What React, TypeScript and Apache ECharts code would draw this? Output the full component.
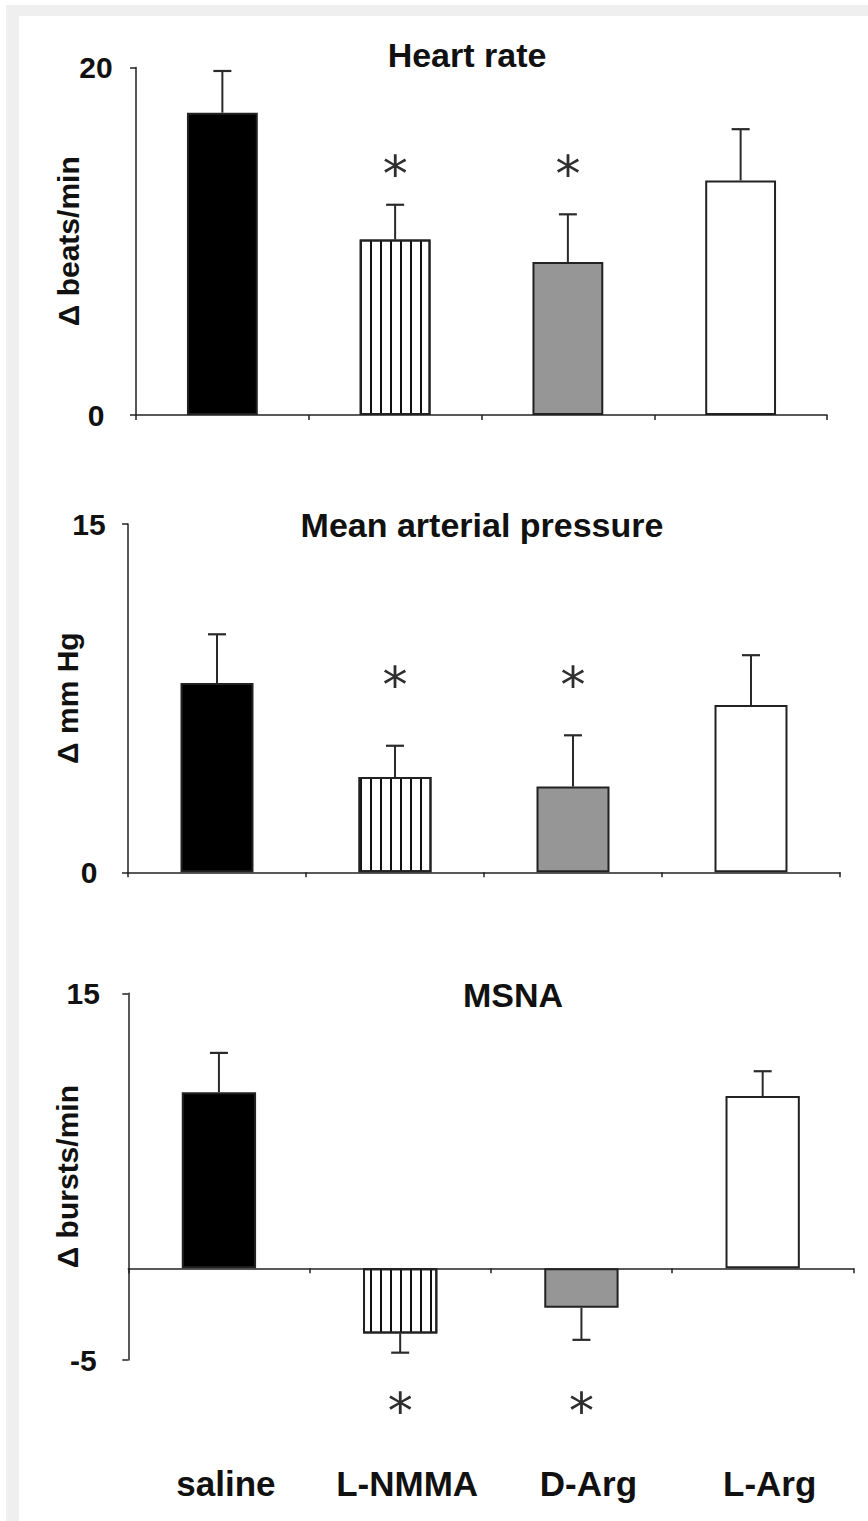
import React, { useEffect, useRef } from "react";
import * as echarts from "echarts";

// ---------- data ----------
const categories = ["saline", "L-NMMA", "D-Arg", "L-Arg"];

const hrMean = [17.4, 10.1, 8.8, 13.5];
const hrSem = [2.4, 2.0, 2.75, 2.95];
const hrSig = [false, true, true, false];
const hrSigLevel = 14.55;
const hrTicks = [0, 20];

const mapMean = [8.15, 4.1, 3.7, 7.2];
const mapSem = [2.1, 1.35, 2.2, 2.15];
const mapSig = [false, true, true, false];
const mapSigLevel = 8.55;
const mapTicks = [0, 15];

const msnaMean = [9.6, -3.55, -2.15, 9.4];
const msnaSem = [2.15, 1.05, 1.75, 1.35];
const msnaSig = [false, true, true, false];
const msnaSigLevel = -7.15;
const msnaTicks = [-5, 15];

// ---------- styles ----------
const FONT = '"Liberation Sans", Arial, Helvetica, sans-serif';
const INK = "#111111";
const LINE = "#222222";
const barFills = ["#000000", "#ffffff", "#969696", "#ffffff"];
const striped = [false, true, false, false];

const panels = [
  {
    title: "Heart rate",
    yName: "\u0394 beats/min",
    mean: hrMean,
    sem: hrSem,
    sig: hrSig,
    sigLevel: hrSigLevel,
    ticks: hrTicks,
    grid: { left: 136, top: 67.5, width: 691, height: 347.5 },
    titleX: 467,
    titleY: 55,
    nameGap: 53,
    labelMargin: 40,
  },
  {
    title: "Mean arterial pressure",
    yName: "\u0394 mm Hg",
    mean: mapMean,
    sem: mapSem,
    sig: mapSig,
    sigLevel: mapSigLevel,
    ticks: mapTicks,
    grid: { left: 128, top: 524, width: 712, height: 348.3 },
    titleX: 482,
    titleY: 525,
    nameGap: 46,
    labelMargin: 39,
  },
  {
    title: "MSNA",
    yName: "\u0394 bursts/min",
    mean: msnaMean,
    sem: msnaSem,
    sig: msnaSig,
    sigLevel: msnaSigLevel,
    ticks: msnaTicks,
    grid: { left: 128.3, top: 993.3, width: 725, height: 366.7 },
    titleX: 513,
    titleY: 995,
    nameGap: 46,
    labelMargin: 45,
  },
];

export default function App() {
  const ref = useRef<HTMLDivElement>(null);

  useEffect(() => {
    if (!ref.current) return;
    const chart = echarts.init(ref.current, undefined, { renderer: "svg" });

    const grids: any[] = [];
    const xAxes: any[] = [];
    const yAxes: any[] = [];
    const series: any[] = [];
    const graphics: any[] = [
      // light grey frame (top and left)
      { type: "rect", shape: { x: 6, y: 5, width: 862, height: 11 }, style: { fill: "#efefef" }, silent: true },
      { type: "rect", shape: { x: 6, y: 5, width: 13, height: 1516 }, style: { fill: "#efefef" }, silent: true },
    ];

    panels.forEach((p, i) => {
      grids.push({ ...p.grid, containLabel: false, outerBoundsMode: "none" });
      xAxes.push({
        type: "category",
        gridIndex: i,
        data: categories,
        boundaryGap: true,
        axisLine: { show: true, onZero: true, lineStyle: { color: LINE, width: 1.5 } },
        axisTick: { show: true, length: 5, inside: false, lineStyle: { color: LINE, width: 1.5 } },
        axisLabel: { show: false },
        splitLine: { show: false },
      });
      yAxes.push({
        type: "value",
        gridIndex: i,
        min: p.ticks[0],
        max: p.ticks[p.ticks.length - 1],
        name: p.yName,
        nameLocation: "middle",
        nameGap: p.nameGap,
        nameMoveOverlap: false,
        nameTextStyle: { color: INK, fontFamily: FONT, fontWeight: "bold", fontSize: 30 },
        axisLine: { show: true, onZero: false, lineStyle: { color: LINE, width: 1.5 } },
        axisTick: { show: true, length: 6, inside: false, customValues: p.ticks, lineStyle: { color: LINE, width: 1.5 } },
        axisLabel: {
          show: true,
          customValues: p.ticks,
          margin: p.labelMargin,
          align: "center",
          color: INK,
          fontFamily: FONT,
          fontWeight: "bold",
          fontSize: 30,
          padding: [10, 0, 0, 0],
        },
        splitLine: { show: false },
      });

      series.push({
        type: "bar",
        xAxisIndex: i,
        yAxisIndex: i,
        barWidth: "41%",
        z: 2,
        data: p.mean.map((v, k) => ({
          value: v,
          itemStyle: {
            color: barFills[k],
            borderColor: LINE,
            borderWidth: 2,
            decal: striped[k]
              ? {
                  symbol: "rect",
                  symbolSize: 1,
                  dashArrayX: [1.6, 7.4],
                  dashArrayY: [10, 0],
                  color: "#111111",
                  rotation: 0,
                }
              : "none",
          },
        })),
      });

      // error bars (one-sided, away from zero)
      series.push({
        type: "custom",
        xAxisIndex: i,
        yAxisIndex: i,
        z: 3,
        data: p.mean.map((v, k) => [k, v, p.sem[k]]),
        renderItem: (params: any, api: any) => {
          const x = api.value(0);
          const v = api.value(1);
          const e = api.value(2);
          const end = v >= 0 ? v + e : v - e;
          const base = api.coord([x, v]);
          const tip = api.coord([x, end]);
          return {
            type: "group",
            children: [
              {
                type: "line",
                shape: { x1: base[0], y1: base[1], x2: tip[0], y2: tip[1] },
                style: { stroke: "#2a2a2a", lineWidth: 2 },
              },
              {
                type: "line",
                shape: { x1: tip[0] - 9, y1: tip[1], x2: tip[0] + 9, y2: tip[1] },
                style: { stroke: "#2a2a2a", lineWidth: 2.2 },
              },
            ],
          };
        },
      });

      // significance asterisks
      series.push({
        type: "custom",
        xAxisIndex: i,
        yAxisIndex: i,
        z: 4,
        data: p.sig.map((s, k) => (s ? [k, p.sigLevel] : null)).filter((d) => d !== null),
        renderItem: (params: any, api: any) => {
          const c = api.coord([api.value(0), api.value(1)]);
          return {
            type: "text",
            x: c[0],
            y: c[1] + 11.5,
            style: {
              text: "*",
              fill: "#2e2e2e",
              font: '50px "DejaVu Sans", sans-serif',
              align: "center",
              verticalAlign: "middle",
              textAlign: "center",
              textVerticalAlign: "middle",
            },
          };
        },
      });

      graphics.push({
        type: "text",
        x: p.titleX,
        y: p.titleY,
        style: {
          text: p.title,
          fill: INK,
          font: `bold 34px ${FONT}`,
          align: "center",
          verticalAlign: "middle",
          textAlign: "center",
          textVerticalAlign: "middle",
        },
      });
    });

    // shared category labels under the bottom panel (an invisible grid of the same width)
    grids.push({ left: 128.3, top: 1440, width: 725, height: 10, containLabel: false, outerBoundsMode: "none" });
    xAxes.push({
      type: "category",
      gridIndex: 3,
      data: categories,
      boundaryGap: true,
      axisLine: { show: false, onZero: false },
      axisTick: { show: false },
      axisLabel: {
        show: true,
        interval: 0,
        margin: 16,
        color: INK,
        fontFamily: FONT,
        fontWeight: "bold",
        fontSize: 35,
        padding: [0, 0, 0, 14],
      },
      splitLine: { show: false },
    });
    yAxes.push({
      type: "value",
      gridIndex: 3,
      min: 0,
      max: 1,
      show: false,
      splitLine: { show: false },
    });

    chart.setOption({
      animation: false,
      backgroundColor: "#ffffff",
      textStyle: { fontFamily: FONT },
      grid: grids,
      xAxis: xAxes,
      yAxis: yAxes,
      series,
      graphic: graphics,
    });

    return () => chart.dispose();
  }, []);

  return (
    <div
      ref={ref}
      style={{ position: "absolute", left: 0, top: 0, width: 868, height: 1521, background: "#ffffff" }}
    />
  );
}
